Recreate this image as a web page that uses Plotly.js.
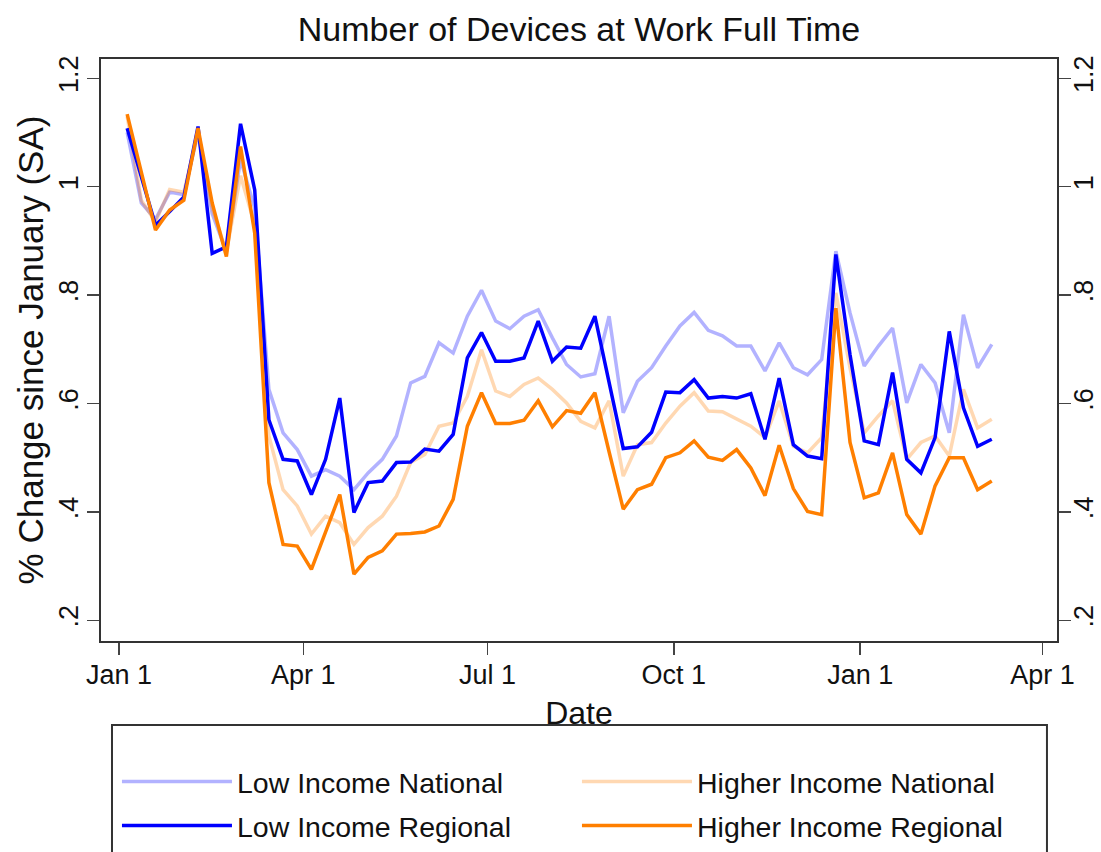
<!DOCTYPE html>
<html>
<head>
<meta charset="utf-8">
<script src="https://cdn.plot.ly/plotly-3.0.1.min.js"></script>
<style>
  html, body { margin: 0; padding: 0; background: #ffffff; }
  #chart { width: 1101px; height: 852px; }
</style>
</head>
<body>
<div id="chart"></div>
<script>
// Weekly observations, starting the first Sunday of 2020
const startDate = '2020-01-05';
const nWeeks = 62;

const lowIncomeNational = [
  1.100, 0.970, 0.940, 0.990, 0.985, 1.100, 0.950, 0.880, 1.050, 0.960,
  0.626, 0.546, 0.515, 0.466, 0.478, 0.466, 0.441, 0.472, 0.497, 0.540,
  0.638, 0.650, 0.712, 0.693, 0.761, 0.809, 0.752, 0.738, 0.761, 0.773,
  0.721, 0.672, 0.649, 0.655, 0.761, 0.583, 0.641, 0.666, 0.706, 0.743,
  0.768, 0.735, 0.725, 0.706, 0.706, 0.660, 0.712, 0.666, 0.653, 0.681,
  0.881, 0.767, 0.669, 0.706, 0.739, 0.601, 0.672, 0.638, 0.546, 0.764,
  0.666, 0.709
];
const higherIncomeNational = [
  1.130, 0.975, 0.935, 0.995, 0.990, 1.100, 0.960, 0.880, 1.020, 0.930,
  0.540, 0.441, 0.411, 0.359, 0.392, 0.380, 0.340, 0.371, 0.392, 0.429,
  0.491, 0.506, 0.558, 0.564, 0.613, 0.699, 0.623, 0.613, 0.635, 0.647,
  0.626, 0.601, 0.567, 0.555, 0.605, 0.466, 0.524, 0.528, 0.564, 0.595,
  0.620, 0.586, 0.585, 0.571, 0.558, 0.537, 0.605, 0.521, 0.509, 0.537,
  0.804, 0.665, 0.546, 0.577, 0.605, 0.497, 0.528, 0.540, 0.503, 0.626,
  0.555, 0.571
];
const lowIncomeRegional = [
  1.108, 1.018, 0.929, 0.954, 0.981, 1.111, 0.877, 0.889, 1.116, 0.994,
  0.570, 0.497, 0.494, 0.432, 0.497, 0.610, 0.399, 0.454, 0.457, 0.491,
  0.492, 0.516, 0.512, 0.543, 0.684, 0.731, 0.678, 0.678, 0.684, 0.752,
  0.678, 0.704, 0.702, 0.761, 0.638, 0.517, 0.520, 0.547, 0.621, 0.620,
  0.644, 0.610, 0.613, 0.610, 0.618, 0.534, 0.647, 0.524, 0.503, 0.498,
  0.875, 0.690, 0.531, 0.524, 0.657, 0.497, 0.472, 0.537, 0.733, 0.592,
  0.521, 0.534
];
const higherIncomeRegional = [
  1.134, 1.027, 0.920, 0.957, 0.975, 1.108, 0.970, 0.871, 1.074, 0.914,
  0.454, 0.340, 0.337, 0.294, 0.362, 0.432, 0.285, 0.316, 0.328, 0.359,
  0.360, 0.363, 0.374, 0.423, 0.558, 0.620, 0.563, 0.563, 0.569, 0.605,
  0.557, 0.587, 0.582, 0.620, 0.511, 0.405, 0.441, 0.451, 0.500, 0.509,
  0.531, 0.501, 0.495, 0.515, 0.481, 0.430, 0.523, 0.443, 0.401, 0.395,
  0.776, 0.528, 0.426, 0.435, 0.509, 0.395, 0.359, 0.448, 0.500, 0.500,
  0.441, 0.457
];

const xTickVals = ['2020-01-01', '2020-04-01', '2020-07-01', '2020-10-01', '2021-01-01', '2021-04-01'];
const xTickText = ['Jan 1', 'Apr 1', 'Jul 1', 'Oct 1', 'Jan 1', 'Apr 1'];
const yTickVals = [0.2, 0.4, 0.6, 0.8, 1.0, 1.2];
const yTickText = ['.2', '.4', '.6', '.8', '1', '1.2'];

// build weekly date strings
const dates = [];
{
  const d0 = new Date(startDate + 'T00:00:00Z');
  for (let i = 0; i < nWeeks; i++) {
    const d = new Date(d0.getTime() + i * 7 * 86400000);
    dates.push(d.toISOString().slice(0, 10));
  }
}

const FONT = 'Liberation Sans, Arial, Helvetica, sans-serif';
const TXT = '#111111';

function line(name, y, color, legendId) {
  return {
    type: 'scatter', mode: 'lines', name: name,
    x: dates, y: y,
    line: { color: color, width: 3.5 },
    legend: legendId,
    hoverinfo: 'skip'
  };
}

const traces = [
  line('Low Income National', lowIncomeNational, 'rgba(0,0,255,0.3)', 'legend'),
  line('Higher Income National', higherIncomeNational, 'rgba(255,127,0,0.3)', 'legend'),
  line('Low Income Regional', lowIncomeRegional, 'rgb(0,0,255)', 'legend2'),
  line('Higher Income Regional', higherIncomeRegional, 'rgb(255,127,0)', 'legend2'),
  { type: 'scatter', mode: 'lines', x: [dates[0]], y: [null], yaxis: 'y2',
    showlegend: false, hoverinfo: 'skip', line: { width: 0 } }
];

const yRange = [0.1618, 1.2356];

function legendRow(yPaper) {
  return {
    orientation: 'h',
    x: 0.0167, xanchor: 'left',
    y: yPaper, yanchor: 'middle',
    bgcolor: 'rgba(0,0,0,0)', borderwidth: 0,
    font: { size: 28.5, family: FONT, color: TXT },
    itemwidth: 110,
    entrywidth: 335, entrywidthmode: 'pixels',
    traceorder: 'normal'
  };
}

const layout = {
  width: 1101, height: 852,
  paper_bgcolor: '#ffffff', plot_bgcolor: '#ffffff',
  margin: { l: 101, r: 44, t: 59, b: 211, autoexpand: false },
  font: { family: FONT, color: TXT },
  title: {
    text: 'Number of Devices at Work Full Time',
    font: { size: 34, family: FONT, color: TXT },
    xref: 'paper', x: 0.5, xanchor: 'center', y: 0.966, yanchor: 'middle'
  },
  xaxis: {
    type: 'date',
    range: ['2019-12-23 02:00', '2021-04-08 05:00'],
    tickmode: 'array', tickvals: xTickVals, ticktext: xTickText,
    ticks: 'outside', ticklen: 12, tickwidth: 1.5, tickcolor: '#444',
    tickfont: { size: 27, family: FONT, color: TXT },
    ticklabelstandoff: -3,
    showline: true, linecolor: '#333', linewidth: 2, mirror: true,
    showgrid: false, zeroline: false,
    title: { text: 'Date', font: { size: 32, family: FONT, color: TXT }, standoff: 12 }
  },
  yaxis: {
    range: yRange,
    tickmode: 'array', tickvals: yTickVals, ticktext: yTickText,
    tickangle: -90,
    ticks: 'outside', ticklen: 12, tickwidth: 1.5, tickcolor: '#444',
    tickfont: { size: 27, family: FONT, color: TXT },
    ticklabelstandoff: -2,
    showline: true, linecolor: '#333', linewidth: 2,
    showgrid: false, zeroline: false,
    title: { text: '% Change since January (SA)', font: { size: 35, family: FONT, color: TXT }, standoff: 0 }
  },
  yaxis2: {
    overlaying: 'y', side: 'right',
    range: yRange,
    tickmode: 'array', tickvals: yTickVals, ticktext: yTickText,
    tickangle: -90,
    ticks: 'outside', ticklen: 12, tickwidth: 1.5, tickcolor: '#444',
    tickfont: { size: 27, family: FONT, color: TXT },
    ticklabelstandoff: -10,
    showline: true, linecolor: '#333', linewidth: 2,
    showgrid: false, zeroline: false
  },
  showlegend: true,
  legend: legendRow(-0.2423),
  legend2: legendRow(-0.3179),
  shapes: [
    { type: 'rect', xref: 'paper', yref: 'paper',
      x0: 0.0115, x1: 0.9895, y0: -0.1443, y1: -0.40,
      line: { color: '#333', width: 2 }, fillcolor: 'rgba(0,0,0,0)', layer: 'below' }
  ]
};

Plotly.newPlot('chart', traces, layout, { displayModeBar: false, staticPlot: true });
</script>
</body>
</html>
